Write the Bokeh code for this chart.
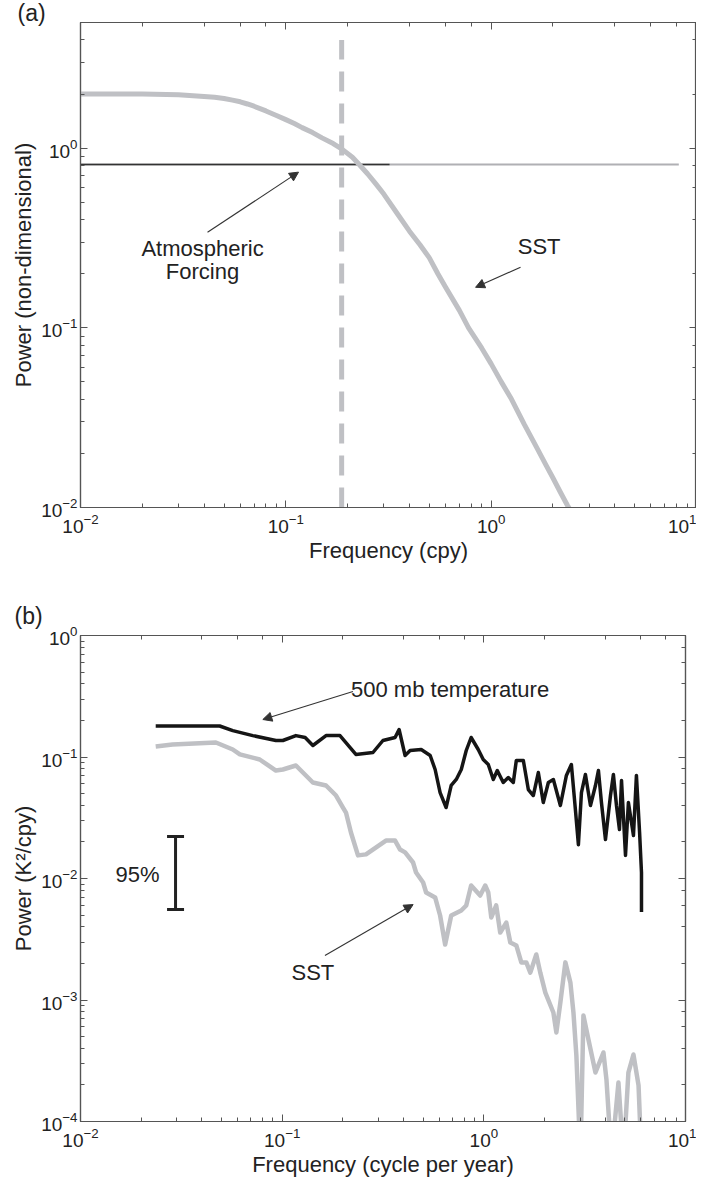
from bokeh.plotting import figure
from bokeh.models import (LogAxis, Range1d, Label, Arrow, NormalHead, Whisker, TeeHead,
                          ColumnDataSource, CustomJSTickFormatter)
from bokeh.layouts import column
from bokeh.embed import file_html
from bokeh.resources import INLINE

FONT = "Liberation Sans"
INK = "#222222"
FRAME = "#555555"
LIGHT = "#bfc0c4"

# ---------------- Panel (a) data ----------------
a_sst_freq = [0.01, 0.02, 0.03, 0.04, 0.045, 0.05, 0.055, 0.06, 0.065, 0.07, 0.08, 0.09,
              0.10, 0.11, 0.12, 0.135, 0.15, 0.17, 0.187, 0.211, 0.23, 0.25, 0.275, 0.30,
              0.35, 0.40, 0.45, 0.50, 0.55, 0.60, 0.70, 0.776, 0.90, 1.0, 1.12, 1.257,
              1.45, 1.68, 1.85, 2.0, 2.17, 2.35, 2.45]
a_sst_power = [2.0, 2.0, 1.98, 1.94, 1.92, 1.89, 1.85, 1.81, 1.76, 1.71, 1.61, 1.52,
               1.44, 1.37, 1.30, 1.22, 1.14, 1.06, 0.99, 0.89, 0.80, 0.72, 0.63, 0.555,
               0.43, 0.345, 0.29, 0.245, 0.20, 0.168, 0.125, 0.100, 0.077, 0.063, 0.050, 0.040,
               0.029, 0.0212, 0.0172, 0.0146, 0.0122, 0.0103, 0.0095]
a_forcing_freq = [0.01, 8.2]
a_forcing_power = [0.81, 0.81]
a_forcing_dark_freq = [0.01, 0.32]
a_cut_freq = [0.187, 0.187]
a_cut_power = [0.01, 4.0]

# ---------------- Panel (b) data ----------------
b_t500_freq = [0.0236, 0.049, 0.0569, 0.0715, 0.0931, 0.1008, 0.117, 0.130, 0.142, 0.165,
               0.1935, 0.232, 0.282, 0.316, 0.363, 0.380, 0.407, 0.431, 0.489, 0.542,
               0.5735, 0.607, 0.650, 0.689, 0.730, 0.773, 0.818, 0.865, 0.938, 0.993,
               1.052, 1.114, 1.166, 1.248, 1.322, 1.40, 1.449, 1.570, 1.662, 1.759,
               1.863, 1.972, 2.089, 2.212, 2.396, 2.567, 2.717, 2.844, 2.944, 3.048,
               3.19, 3.379, 3.577, 3.70, 3.83, 4.01, 4.246, 4.39, 4.547, 4.705,
               4.816, 5.04, 5.21, 5.52, 5.71, 5.92, 6.05, 6.05]
b_t500_power = [0.180, 0.180, 0.165, 0.150, 0.1367, 0.1367, 0.150, 0.1447, 0.1244, 0.150,
                0.150, 0.1049, 0.1089, 0.1367, 0.1447, 0.1684, 0.1029, 0.1131, 0.1153, 0.1029,
                0.0789, 0.0510, 0.0384, 0.0583, 0.0653, 0.0789, 0.1131, 0.1447, 0.1153, 0.0954,
                0.0868, 0.0653, 0.0774, 0.0617, 0.0678, 0.0617, 0.0936, 0.0936, 0.0540, 0.0482,
                0.0745, 0.0422, 0.0617, 0.0653, 0.0399, 0.0705, 0.0868, 0.0370, 0.0190, 0.0510,
                0.0718, 0.0399, 0.0583, 0.0774, 0.0422, 0.0209, 0.0482, 0.0718, 0.0399, 0.0253,
                0.0641, 0.0155, 0.0422, 0.0226, 0.0705, 0.0239, 0.0112, 0.0053]

b_sst_freq = [0.0236, 0.0286, 0.0469, 0.0569, 0.0617, 0.0774, 0.0931, 0.1008, 0.117, 0.142,
              0.165, 0.185, 0.2002, 0.2072, 0.2193, 0.2377, 0.2604, 0.327, 0.363, 0.3843,
              0.407, 0.4457, 0.4613, 0.5, 0.5175, 0.5735, 0.607, 0.643, 0.689, 0.773,
              0.818, 0.865, 0.959, 1.016, 1.052, 1.089, 1.152, 1.206, 1.292, 1.353,
              1.449, 1.534, 1.624, 1.70, 1.820, 1.905, 2.018, 2.212, 2.289, 2.396,
              2.537, 2.687, 2.782, 2.877, 3.013, 3.118, 3.301, 3.577, 3.918, 4.055,
              4.295, 4.65, 4.926, 5.21, 5.52, 5.85, 6.05]
b_sst_power = [0.122, 0.1267, 0.1316, 0.1153, 0.105, 0.0954, 0.0774, 0.0789, 0.0851, 0.0617,
               0.0583, 0.0482, 0.0384, 0.0349, 0.0239, 0.0155, 0.0158, 0.0205, 0.0205, 0.0173,
               0.0164, 0.01354, 0.0112, 0.00927, 0.00767, 0.00698, 0.00496, 0.00286, 0.00496, 0.00545,
               0.0060, 0.00876, 0.00724, 0.00876, 0.00767, 0.00478, 0.0060, 0.00359, 0.00434, 0.00297,
               0.00281, 0.00204, 0.00204, 0.00168, 0.00237, 0.00168, 0.00115, 0.000789, 0.00054, 0.000954,
               0.00204, 0.00139, 0.000789, 0.000349, 0.00005, 0.000745, 0.000473, 0.000253, 0.00037, 0.000222,
               0.00005, 0.000209, 0.00005, 0.000253, 0.000356, 0.000198, 0.00005]

b_bar_freq = [0.0296]
b_bar_low = [0.00556]
b_bar_high = [0.0222]


def style_axis(ax):
    ax.axis_line_color = FRAME
    ax.axis_line_width = 1.2
    ax.major_tick_line_color = FRAME
    ax.minor_tick_line_color = FRAME
    ax.major_tick_in = 7
    ax.major_tick_out = 0
    ax.minor_tick_in = 4
    ax.minor_tick_out = 0
    ax.major_label_text_font = FONT
    ax.major_label_text_font_size = "19px"
    ax.major_label_text_color = INK
    ax.axis_label_text_font = FONT
    ax.axis_label_text_font_size = "22px"
    ax.axis_label_text_font_style = "normal"
    ax.axis_label_text_color = INK


def make_fig(x_range, y_range, fw, fh, left, right, top, bottom, xlabel, ylabel):
    p = figure(x_axis_type="log", y_axis_type="log", x_range=x_range, y_range=y_range,
               frame_width=fw, frame_height=fh, min_border_left=left, min_border_right=right,
               min_border_top=top, min_border_bottom=bottom,
               output_backend="svg", toolbar_location=None)
    p.grid.visible = False
    p.outline_line_color = FRAME
    p.outline_line_width = 1.2
    p.background_fill_color = "white"
    p.border_fill_color = "white"
    p.xaxis.axis_label = xlabel
    p.yaxis.axis_label = ylabel
    for ax in p.xaxis + p.yaxis:
        style_axis(ax)
    p.xaxis.major_label_standoff = 6
    p.xaxis.axis_label_standoff = 2
    p.yaxis.major_label_standoff = 3
    p.yaxis.axis_label_standoff = 2
    for side in ("above", "right"):
        ax = LogAxis(formatter=CustomJSTickFormatter(code="return ''"))
        style_axis(ax)
        ax.major_label_standoff = 0
        p.add_layout(ax, side)
    return p


def panel_title(p, text, offset, standoff):
    p.title.text = text
    p.title.align = "left"
    p.title.offset = offset
    p.title.standoff = standoff
    p.title.text_font = FONT
    p.title.text_font_size = "23px"
    p.title.text_font_style = "normal"
    p.title.text_color = INK


def label(p, x, y, text, size="22px", align="center"):
    p.add_layout(Label(x=x, y=y, text=text, text_font=FONT, text_font_size=size,
                       text_color=INK, text_align=align, text_baseline="middle"))


def arrow(p, x0, y0, x1, y1):
    p.add_layout(Arrow(x_start=x0, y_start=y0, x_end=x1, y_end=y1, line_color="#333333",
                       line_width=1.1,
                       end=NormalHead(size=9, fill_color="#333333", line_color="#333333")))


# ---------------- Panel (a) ----------------
pa = make_fig(Range1d(0.01, 10), Range1d(0.01, 5.0), 616, 485, 72, 8, 22, 70,
              "Frequency (cpy)", "Power (non-dimensional)")
panel_title(pa, "(a)", -63, -6)
pa.line(a_forcing_freq, a_forcing_power, line_color="#b0b0b4", line_width=2)
pa.line(a_forcing_dark_freq, a_forcing_power, line_color="#333333", line_width=1.6)
pa.line(a_cut_freq, a_cut_power, line_color=LIGHT, line_width=5, line_dash="20 12")
pa.line(a_sst_freq, a_sst_power, line_color=LIGHT, line_width=5, line_join="round")
label(pa, 0.0393, 0.277, "Atmospheric")
label(pa, 0.0393, 0.205, "Forcing")
label(pa, 1.712, 0.2827, "SST")
arrow(pa, 0.04156, 0.340, 0.1153, 0.735)
arrow(pa, 1.39, 0.2173, 0.8395, 0.168)

# ---------------- Panel (b) ----------------
pb = make_fig(Range1d(0.01, 10), Range1d(1e-4, 1.0), 605, 486, 80, 11, 58, 50,
              "Frequency (cycle per year)", "Power (K²/cpy)")
panel_title(pb, "(b)", -66, 13)
pb.line(b_sst_freq, b_sst_power, line_color=LIGHT, line_width=4.5, line_join="round")
pb.line(b_t500_freq, b_t500_power, line_color="#151515", line_width=3.5, line_join="round")
bar_src = ColumnDataSource(dict(x=b_bar_freq, lo=b_bar_low, hi=b_bar_high))
pb.add_layout(Whisker(base="x", lower="lo", upper="hi", source=bar_src, dimension="height",
                      line_color=INK, line_width=3,
                      upper_head=TeeHead(size=17, line_color=INK, line_width=3),
                      lower_head=TeeHead(size=17, line_color=INK, line_width=3)))
label(pb, 0.2195, 0.3628, "500 mb temperature", align="left")
label(pb, 0.0192, 0.01089, "95%")
label(pb, 0.142, 0.00168, "SST")
arrow(pb, 0.2245, 0.346, 0.0802, 0.2035)
arrow(pb, 0.163, 0.00232, 0.446, 0.0061)

layout = column(pa, pb, spacing=0)
open("out.html", "w").write(file_html(layout, INLINE))
